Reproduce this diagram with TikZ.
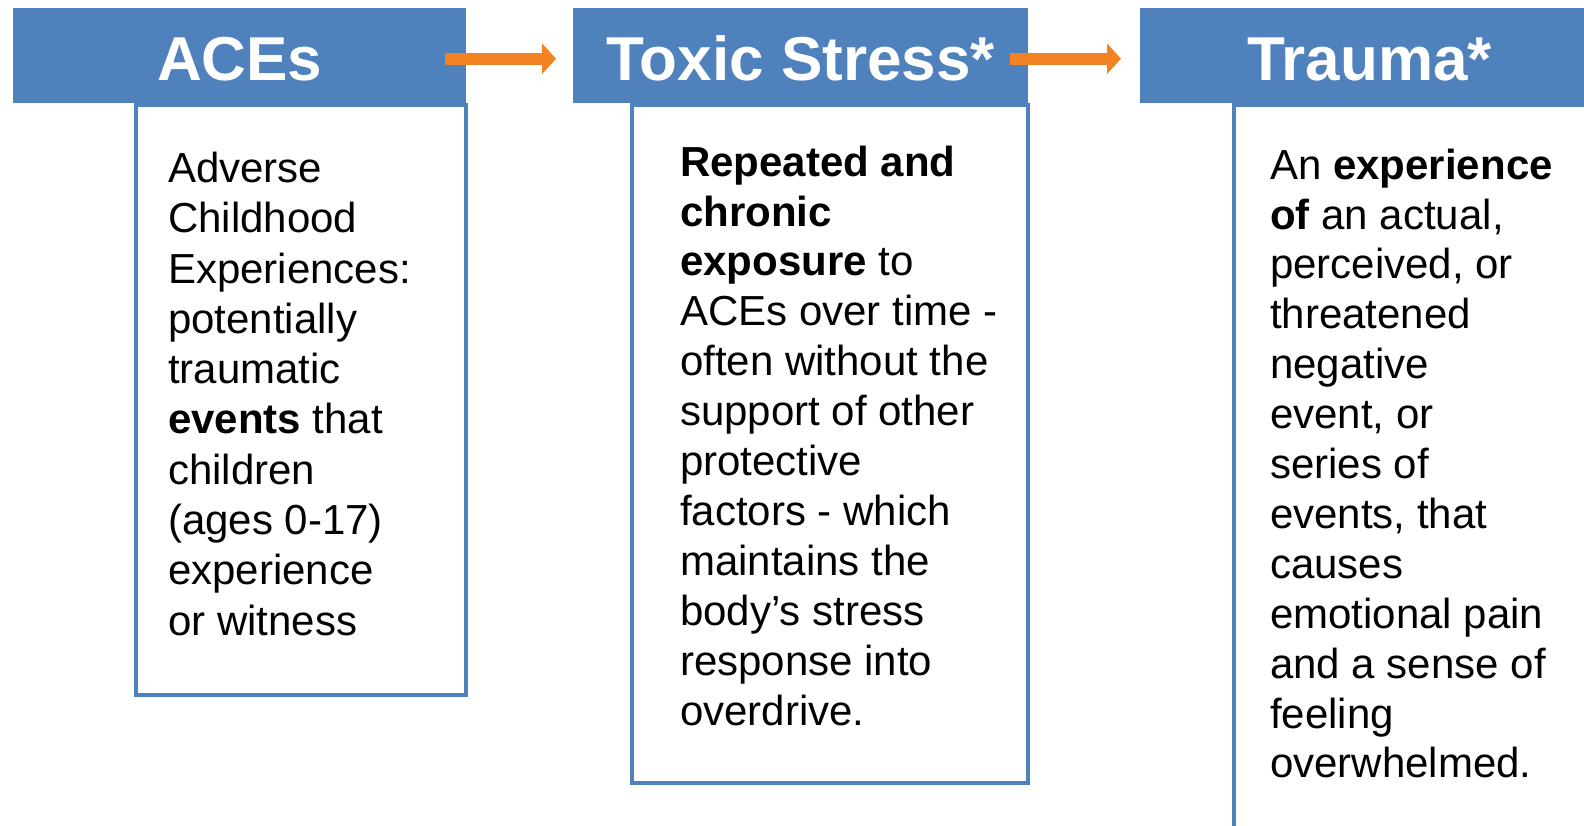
\documentclass[tikz,border=0pt]{standalone}
\usepackage{fontspec}
\setmainfont{Liberation Sans}
\usetikzlibrary{arrows.meta,calc}
\definecolor{hblue}{RGB}{79,129,189}
\definecolor{aorange}{RGB}{242,130,34}
\tikzset{
  hdr/.style={fill=hblue, draw=none, anchor=north west, inner sep=0pt},
  hdrtext/.style={text=white, anchor=base, inner sep=0pt, font=\fontsize{62}{70}\selectfont\bfseries},
  bodybox/.style={draw=hblue, line width=4pt, fill=white, anchor=north west, inner sep=0pt},
  bodytext/.style={anchor=north west, inner sep=0pt, align=left, text=black, font=\fontsize{42}{49.9}\selectfont},
  flow/.style={draw=aorange, line width=12pt, -{Triangle[length=14pt,width=30pt]}}
}
\begin{document}
\begin{tikzpicture}[x=1pt,y=-1pt]
\useasboundingbox (0,0) rectangle (1584,826);
\clip (0,0) rectangle (1584,826);
% body boxes
\node[bodybox, minimum width=330pt, minimum height=590pt] (b1) at (134,103) {};
\node[bodybox, minimum width=396pt, minimum height=678pt] (b2) at (630,103) {};
\node[bodybox, minimum width=400pt, minimum height=760pt] (b3) at (1231.5,103) {};
% headers
\node[hdr, minimum width=453pt, minimum height=95pt] (h1) at (13,8) {};
\node[hdr, minimum width=455pt, minimum height=95pt] (h2) at (573,8) {};
\node[hdr, minimum width=460pt, minimum height=95pt] (h3) at (1139.5,8) {};
\node[hdrtext] (l1) at ($(h1.north)+(0,73)$) {ACEs};
\node[hdrtext] (l2) at ($(h2.north)+(0,73)$) {Toxic Stress*};
\node[hdrtext] (l3) at ($(h3.north)+(0,73)$) {Trauma*};
% arrows
\draw[flow] ($(h1.east)+(-21.5,3)$) -- ($(h2.west)+(-17,3)$);
\draw[flow] ($(h2.east)+(-18,3)$) -- ($(h3.west)+(-18.5,3)$);
% texts
\node[bodytext, font=\fontsize{42}{50.3}\selectfont] (t1) at (168,147) {\strut Adverse\\Childhood\\Experiences:\\potentially\\traumatic\\\textbf{events} that\\children\\(ages 0-17)\\experience\\or witness};
\node[bodytext] (t2) at (680,141) {\strut\textbf{Repeated and}\\\textbf{chronic}\\\textbf{exposure} to\\ACEs over time -\\often without the\\support of other\\protective\\factors - which\\maintains the\\body’s stress\\response into\\overdrive.};
\node[bodytext] (t3) at (1270,144) {\strut An \textbf{experience}\\\textbf{of} an actual,\\perceived, or\\threatened\\negative\\event, or\\series of\\events, that\\causes\\emotional pain\\and a sense of\\feeling\\overwhelmed.};
\end{tikzpicture}
\end{document}
